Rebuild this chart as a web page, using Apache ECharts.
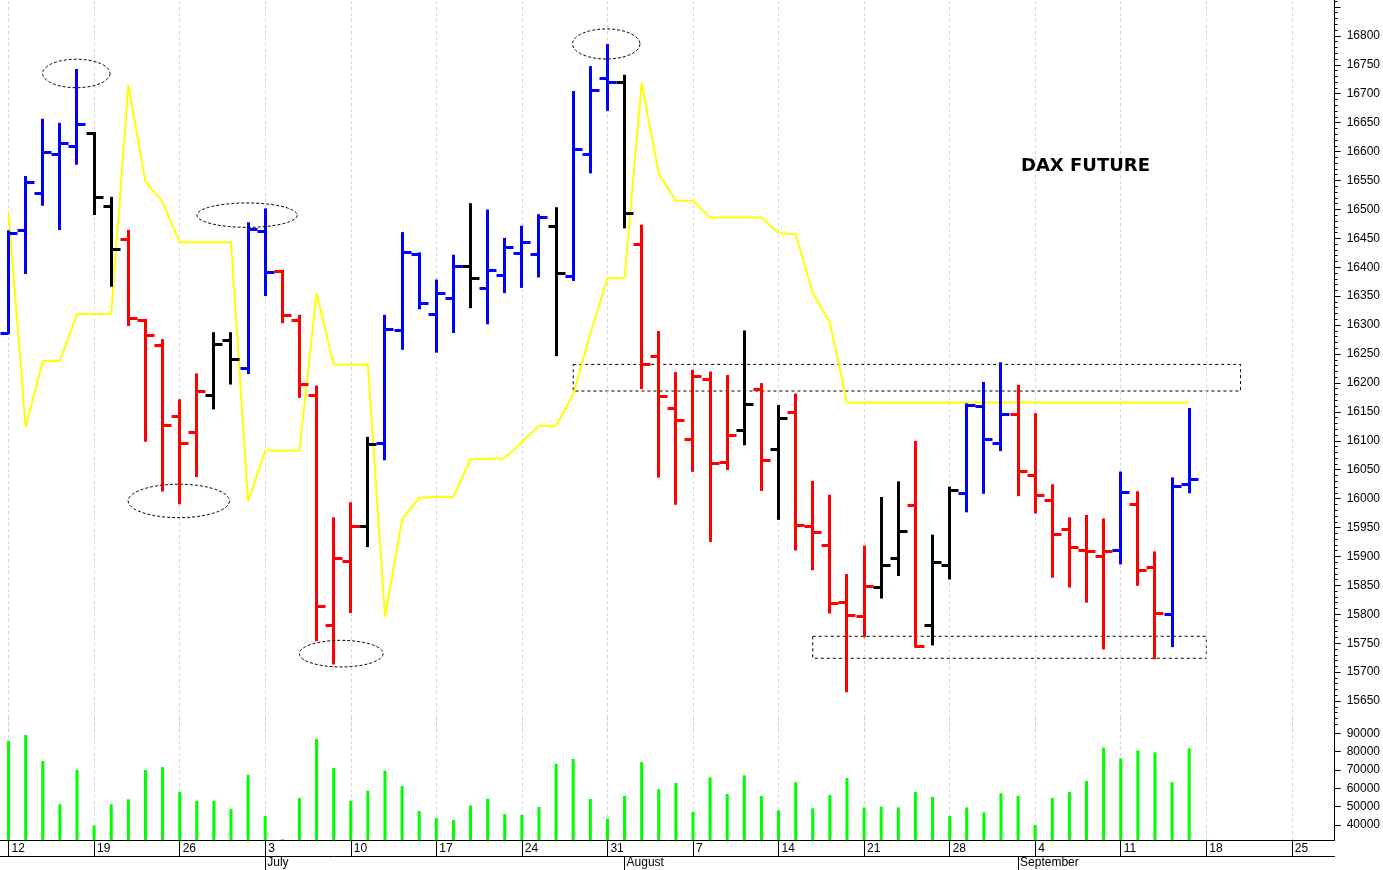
<!DOCTYPE html>
<html><head><meta charset="utf-8">
<script src="https://cdn.jsdelivr.net/npm/echarts@6/dist/echarts.min.js"></script>
<style>html,body{margin:0;padding:0;background:#fff}#chart{width:1383px;height:870px}</style>
</head><body><div id="chart"></div>
<script>
// Trading days (2023), plus empty future days on the axis
const dates = [
 '06-12','06-13','06-14','06-15','06-16','06-19','06-20','06-21','06-22','06-23','06-26','06-27','06-28','06-29','06-30',
 '07-03','07-04','07-05','07-06','07-07','07-10','07-11','07-12','07-13','07-14','07-17','07-18','07-19','07-20','07-21',
 '07-24','07-25','07-26','07-27','07-28','07-31',
 '08-01','08-02','08-03','08-04','08-07','08-08','08-09','08-10','08-11','08-14','08-15','08-16','08-17','08-18',
 '08-21','08-22','08-23','08-24','08-25','08-28','08-29','08-30','08-31',
 '09-01','09-04','09-05','09-06','09-07','09-08','09-11','09-12','09-13','09-14','09-15',
 '09-18','09-19','09-20','09-21','09-22','09-25','09-26','09-27'
];
const opens  = [16286,16465,16529,16596,16610,16632,16506,16449,16309,16266,16143,16115,16179,16274,16225,
 16462,16394,16309,16179,15781,15892,15953,16097,16292,16423,16320,16346,16402,16364,16386,
 16424,16423,16471,16384,16596,16727,16721,16440,16247,16156,16103,16207,16063,16119,16189,
 16086,16150,15953,15919,15821,15797,15847,15897,15989,15781,15886,16009,16160,16097,16147,
 16041,15998,15947,15911,15900,15912,15991,15881,15800,16026];
const highs  = [16462,16556,16655,16648,16741,16632,16520,16463,16309,16274,16170,16215,16286,16286,16476,
 16500,16394,16316,16194,15966,15992,16105,16316,16459,16424,16377,16420,16509,16498,16449,
 16470,16490,16502,16703,16746,16784,16731,16472,16288,16217,16221,16218,16212,16289,16198,
 16160,16180,16029,16005,15868,15917,16001,16028,16098,15936,16019,16163,16200,16234,16195,
 16146,16023,15966,15970,15964,16045,16011,15907,16035,16155];
const lows   = [16286,16390,16508,16466,16579,16492,16368,16300,16100,16014,15992,16039,16156,16199,16217,
 16352,16305,16176,15755,15715,15804,15918,16068,16259,16329,16254,16288,16331,16303,16357,
 16366,16384,16248,16378,16564,16672,16469,16191,16038,15991,16048,15927,16051,16094,16015,
 15965,15912,15878,15803,15667,15762,15829,15868,15744,15748,15862,15978,16010,16084,16006,
 15976,15865,15848,15822,15741,15888,15851,15724,15745,16011];
const closes = [16459,16548,16600,16614,16647,16521,16432,16312,16283,16128,16097,16186,16267,16241,16466,
 16392,16317,16199,15815,15897,15953,16094,16294,16427,16339,16355,16403,16382,16395,16435,
 16443,16486,16390,16604,16707,16720,16494,16233,16177,16136,16212,16061,16110,16164,16067,
 16140,15954,15942,15819,15799,15849,15885,15944,15745,15891,16015,16162,16103,16146,16048,
 16006,15939,15916,15909,15910,16012,15876,15802,16022,16034];
// B = blue, R = red, K = black
const barColors = ['B','B','B','B','B','K','K','R','R','R','R','R','K','K','B',
 'B','R','R','R','R','R','K','B','B','B','B','B','K','B','B',
 'B','B','K','B','B','B','K','R','R','R','R','R','R','K','R',
 'K','R','R','R','R','R','K','K','R','K','K','B','B','B','R',
 'R','R','R','R','R','B','R','R','B','B'];
const signalLine = [16493,16124,16238,16238,16319,16319,16319,16715,16548,16513,16443,16443,16443,16443,15995,
 16083,16083,16083,16355,16232,16232,16232,15796,15964,16002,16003,16003,16068,16069,16070,
 16098,16126,16126,16180,16285,16381,16381,16719,16561,16515,16515,16486,16486,16486,16486,
 16459,16457,16355,16304,16166,16166,16166,16166,16166,16166,16166,16166,16166,16166,16166,
 16166,16166,16166,16166,16166,16166,16166,16166,16166,16166];
const volumes = [86000,89100,74900,51300,70000,39800,51300,54000,70000,71600,
 58000,53100,53100,48700,67300,44900,32200,54700,86900,71100,
 53100,58700,69600,61300,47600,43800,42700,50700,54300,46000,
 45500,49800,73400,76000,54200,43500,55800,74400,59600,62900,
 47100,66000,56900,67100,55800,48000,63300,49100,56400,65600,
 49500,50000,49600,58000,55300,44900,49600,46900,57300,55800,
 40000,54700,58000,64000,82200,76400,80700,79600,63300,81800];
const priceTickLabels = [15650,15700,15750,15800,15850,15900,15950,16000,16050,16100,16150,16200,16250,
 16300,16350,16400,16450,16500,16550,16600,16650,16700,16750,16800];
const priceMajorTicks = priceTickLabels.concat([16850]);
const volumeTickLabels = [40000,50000,60000,70000,80000,90000];
const monthNames = {'07':'July','08':'August','09':'September'};
// annotation ellipses: [day index, price, half width (days), half height (price)]
const ellipses = [[3.96,16735,1.97,24.6],[13.94,16490,2.93,21.1],[9.95,15996,2.96,28.9],[19.44,15732,2.45,23],[34.93,16786,1.97,26]];
// annotation boxes: [from day, to day, upper price, lower price]
const zones = [['07-27','09-20',16232,16186],['08-16','09-18',15762,15724]];

const PRICE_MIN = 15600, PRICE_MAX = 16862, VOL_MIN = 31800, VOL_MAX = 100000;
const colorMap = {B:'#0000ff', R:'#ff0000', K:'#000000'};
const isMonday = d => new Date('2023-' + d + 'T12:00:00').getDay() === 1;
const isMonthStart = (i) => i > 0 && dates[i].slice(0,2) !== dates[i-1].slice(0,2);
const mondays = dates.filter(isMonday);
const minorTicks = [];
for (let v = 15610; v <= 16860; v += 10) minorTicks.push(v);
const FONT = 'Liberation Sans';
const plain = v => String(Math.round(v));

const chart = echarts.init(document.getElementById('chart'));
const vLine = {
  silent: true, symbol: 'none', animation: false, z: 1,
  label: {show: false},
  lineStyle: {color: '#d4d4e6', type: [3, 3], width: 1},
  data: mondays.map(d => ({xAxis: d}))
};
const option = {
  animation: false,
  backgroundColor: '#fff',
  title: {text: 'DAX FUTURE', left: 1021, top: 157, padding: 0,
    textStyle: {fontFamily: 'DejaVu Sans', fontWeight: 'bold', fontSize: 18, color: '#000'}},
  grid: [
    {left: 0, top: 0, width: 1335, height: 730},
    {left: 0, top: 715, width: 1335, height: 125}
  ],
  xAxis: [
    {type: 'category', gridIndex: 0, data: dates, boundaryGap: true, show: false},
    {type: 'category', gridIndex: 1, data: dates, boundaryGap: true, position: 'bottom',
      axisLine: {show: true, lineStyle: {color: '#000', width: 1}},
      axisTick: {show: true, alignWithLabel: true, length: 16, interval: (i, v) => isMonday(v), lineStyle: {color: '#000'}},
      axisLabel: {show: true, interval: (i, v) => isMonday(v), formatter: v => String(parseInt(v.slice(3), 10)),
        align: 'left', margin: 3, padding: [0, 0, 0, 3], fontFamily: FONT, fontSize: 12, color: '#000'},
      splitLine: {show: false}},
    {type: 'category', gridIndex: 1, data: dates, boundaryGap: true, position: 'bottom', offset: 16,
      axisLine: {show: true, lineStyle: {color: '#000', width: 1}},
      axisTick: {show: true, alignWithLabel: true, length: 16, interval: (i) => isMonthStart(i), lineStyle: {color: '#000'}},
      axisLabel: {show: true, interval: (i) => isMonthStart(i), formatter: v => monthNames[v.slice(0,2)] || '',
        align: 'left', margin: 1, padding: [0, 0, 0, 2], fontFamily: FONT, fontSize: 12, color: '#000'},
      splitLine: {show: false}}
  ],
  yAxis: [
    {type: 'value', gridIndex: 0, position: 'right', min: PRICE_MIN, max: PRICE_MAX, scale: true,
      axisLine: {show: true, lineStyle: {color: '#000', width: 1}},
      axisTick: {show: true, length: 6, customValues: priceMajorTicks, lineStyle: {color: '#000'}},
      axisLabel: {show: true, customValues: priceTickLabels, formatter: plain, margin: 12, fontFamily: FONT, fontSize: 12, color: '#000'},
      splitLine: {show: false}},
    {type: 'value', gridIndex: 0, position: 'right', min: PRICE_MIN, max: PRICE_MAX, scale: true,
      axisLine: {show: false},
      axisTick: {show: true, length: 3, customValues: minorTicks, lineStyle: {color: '#000'}},
      axisLabel: {show: false}, splitLine: {show: false}},
    {type: 'value', gridIndex: 1, position: 'right', min: VOL_MIN, max: VOL_MAX, scale: true,
      axisLine: {show: true, lineStyle: {color: '#000', width: 1}},
      axisTick: {show: true, length: 6, customValues: volumeTickLabels, lineStyle: {color: '#000'}},
      axisLabel: {show: true, customValues: volumeTickLabels, formatter: plain, margin: 12, fontFamily: FONT, fontSize: 12, color: '#000'},
      splitLine: {show: false}}
  ],
  series: [
    {type: 'line', name: 'gridPrice', xAxisIndex: 0, yAxisIndex: 0, data: [], z: 1, silent: true, markLine: vLine},
    {type: 'line', name: 'gridVolume', xAxisIndex: 1, yAxisIndex: 2, data: [], z: 1, silent: true, markLine: vLine},
    {type: 'line', name: 'signal', xAxisIndex: 0, yAxisIndex: 0, data: signalLine, z: 3,
      symbol: 'none', lineStyle: {color: '#ffff00', width: 2}, silent: true,
      markArea: {silent: true,
        itemStyle: {color: 'rgba(0,0,0,0)', borderColor: '#000', borderWidth: 1, borderType: [3, 3]},
        data: zones.map(z => [{xAxis: z[0], yAxis: z[2]}, {xAxis: z[1], yAxis: z[3]}])}},
    {type: 'custom', name: 'ohlc', xAxisIndex: 0, yAxisIndex: 0, z: 10, silent: true,
      data: opens.map((o, i) => [i, o, highs[i], lows[i], closes[i]]),
      encode: {x: 0, y: [1, 2, 3, 4]},
      renderItem: function (params, api) {
        const i = api.value(0);
        const o = api.coord([i, api.value(1)]);
        const h = api.coord([i, api.value(2)]);
        const l = api.coord([i, api.value(3)]);
        const c = api.coord([i, api.value(4)]);
        const col = colorMap[barColors[params.dataIndex]];
        const x = Math.round(o[0] - 0.5) + 0.5;
        const yo = Math.round(o[1]) + 0.5, yc = Math.round(c[1]) + 0.5;
        const st = {stroke: col, lineWidth: 3, lineCap: 'butt'};
        return {type: 'group', children: [
          {type: 'line', shape: {x1: x, y1: h[1] - 1, x2: x, y2: l[1] + 1}, style: st},
          {type: 'line', shape: {x1: x - 8, y1: yo, x2: x, y2: yo}, style: st},
          {type: 'line', shape: {x1: x, y1: yc, x2: x + 9, y2: yc}, style: st}
        ]};
      }},
    {type: 'custom', name: 'marks', xAxisIndex: 0, yAxisIndex: 0, z: 11, silent: true,
      data: ellipses.map(e => [0, e[1], e[0], e[2], e[3]]),
      encode: {x: 0, y: 1},
      renderItem: function (params, api) {
        const p = api.value(1), idx = api.value(2), rxd = api.value(3), ryp = api.value(4);
        const base = api.coord([0, p]);
        const bw = api.size([1, 0])[0];
        const cx = base[0] + idx * bw, cy = base[1];
        const rx = rxd * bw, ry = api.size([0, ryp])[1];
        const pts = [];
        for (let k = 0; k < 90; k++) { const t = k / 90 * 2 * Math.PI; pts.push([cx + rx * Math.cos(t), cy + ry * Math.sin(t)]); }
        return {type: 'polygon', shape: {points: pts}, style: {fill: null, stroke: '#000', lineWidth: 1, lineDash: [3, 2]}};
      }},
    {type: 'bar', name: 'volume', xAxisIndex: 1, yAxisIndex: 2, data: volumes, barWidth: 3, z: 10, silent: true,
      itemStyle: {color: '#00ff00'}}
  ]
};
chart.setOption(option);
</script></body></html>
